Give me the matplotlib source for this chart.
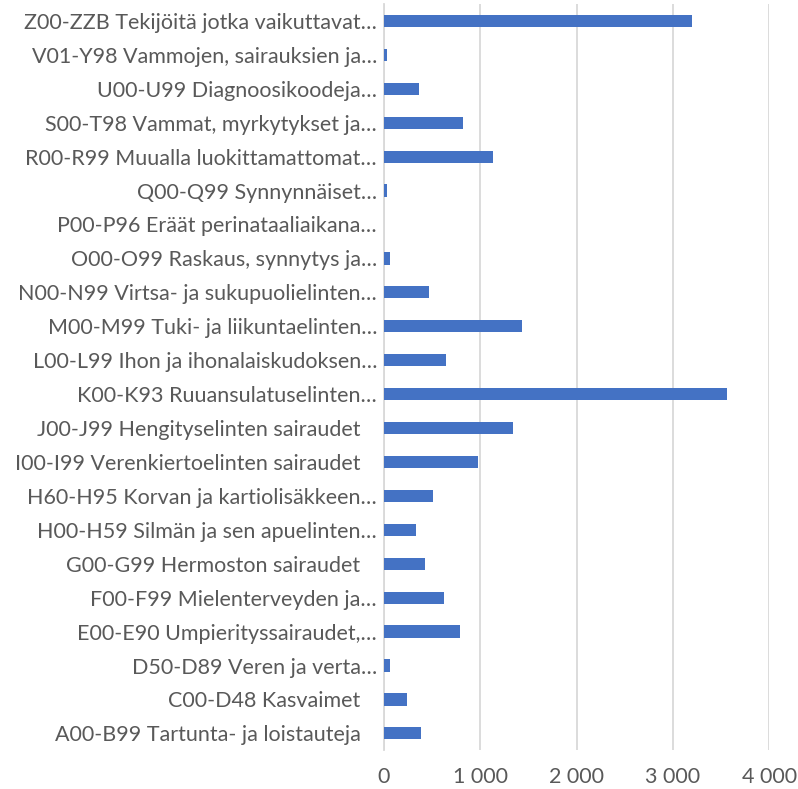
import matplotlib.pyplot as plt
import numpy as np

# categories from bottom to top
labels = [
    'A00-B99 Tartunta- ja loistauteja   ',
    'C00-D48 Kasvaimet   ',
    'D50-D89 Veren ja verta…',
    'E00-E90 Umpierityssairaudet,…',
    'F00-F99 Mielenterveyden ja…',
    'G00-G99 Hermoston sairaudet   ',
    'H00-H59 Silmän ja sen apuelinten…',
    'H60-H95 Korvan ja kartiolisäkkeen…',
    'I00-I99 Verenkiertoelinten sairaudet   ',
    'J00-J99 Hengityselinten sairaudet   ',
    'K00-K93 Ruuansulatuselinten…',
    'L00-L99 Ihon ja ihonalaiskudoksen…',
    'M00-M99 Tuki- ja liikuntaelinten…',
    'N00-N99 Virtsa- ja sukupuolielinten…',
    'O00-O99 Raskaus, synnytys ja…',
    'P00-P96 Eräät perinataaliaikana…',
    'Q00-Q99 Synnynnäiset…',
    'R00-R99 Muualla luokittamattomat…',
    'S00-T98 Vammat, myrkytykset ja…',
    'U00-U99 Diagnoosikoodeja…',
    'V01-Y98 Vammojen, sairauksien ja…',
    'Z00-ZZB Tekijöitä jotka vaikuttavat…',
]
values = [385, 240, 62, 788, 628, 427, 330, 510, 979, 1340, 3562,
          646, 1437, 469, 60, 0, 28, 1128, 820, 361, 28, 3201]

ticks = [0, 1000, 2000, 3000, 4000]
tick_labels = ['0', '1 000', '2 000', '3 000', '4 000']

plt.rcParams['font.family'] = ['Lato', 'DejaVu Sans']

fig = plt.figure(figsize=(7.98, 7.89), dpi=100)
ax = fig.add_axes([0.481, 0.049, 0.483, 0.946])

y = np.arange(len(labels))
ax.barh(y, values, height=0.36, color='#4472C4', zorder=3)

ax.set_xlim(0, 4000)
ax.set_ylim(-0.5, len(labels) - 0.5)
ax.set_yticks(y)
ax.set_yticklabels(labels)
ax.set_xticks(ticks)
ax.set_xticklabels(tick_labels)

ax.grid(axis='x', color='#d9d9d9', linewidth=1.3, zorder=0)
for s in ['top', 'right', 'bottom']:
    ax.spines[s].set_visible(False)
ax.spines['left'].set_color('#d9d9d9')
ax.spines['left'].set_linewidth(1.3)

ax.tick_params(axis='both', length=0, labelsize=15.5, labelcolor='#595959')
ax.tick_params(axis='y', pad=5)
ax.tick_params(axis='x', pad=12)

fig.savefig('out.png', dpi=100)
